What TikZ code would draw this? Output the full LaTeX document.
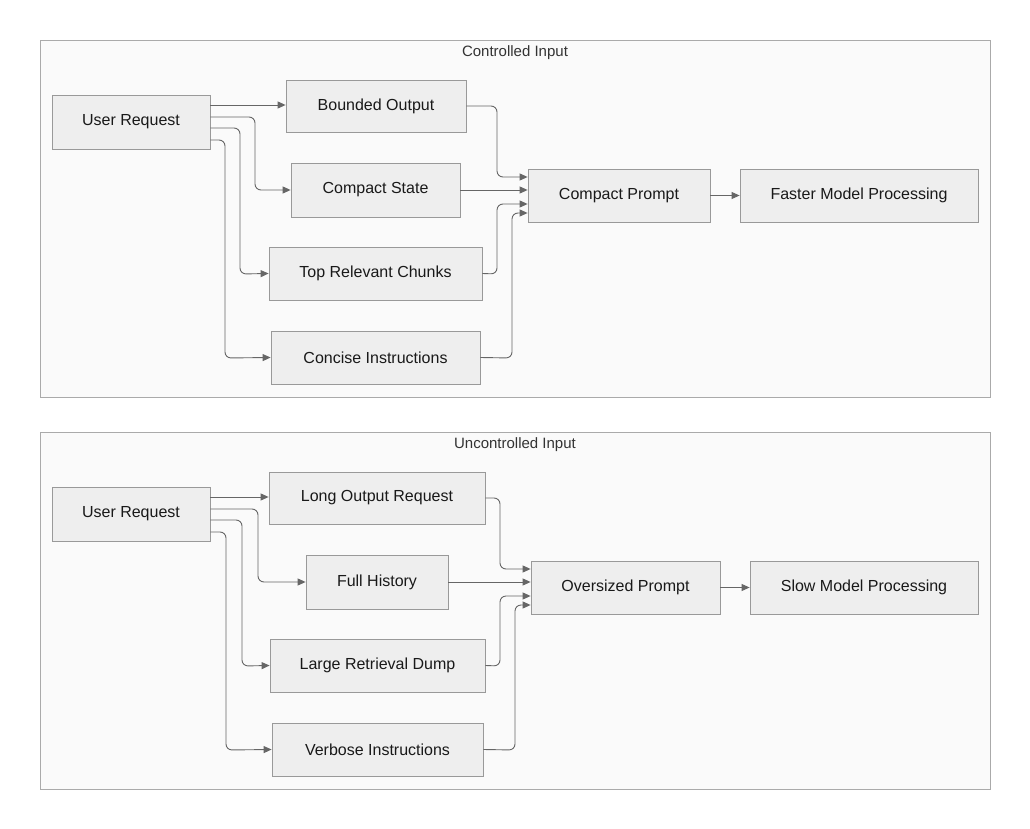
\documentclass[tikz,border=0pt]{standalone}
\usepackage{fontspec}
\setmainfont{Liberation Sans}
\usetikzlibrary{calc,arrows.meta}
\definecolor{nodefill}{HTML}{EEEEEE}
\definecolor{nodeline}{HTML}{999999}
\definecolor{clfill}{HTML}{FAFAFA}
\definecolor{clline}{HTML}{AAAAAA}
\definecolor{edge}{HTML}{666666}
\tikzset{
 box/.style={draw=nodeline,fill=nodefill,line width=0.8pt,inner sep=0pt,font=\fontsize{16}{19}\selectfont,text=black!90},
 cl/.style={draw=clline,fill=clfill,line width=0.8pt},
 ttl/.style={font=\fontsize{15}{18}\selectfont,text=black!80},
 ed/.style={draw=edge,line width=0.9pt,rounded corners=6pt,-{Triangle[length=8pt,width=7pt]}}
}
\newcommand{\mkbox}[6]{\node[box,minimum width={#4-#2},minimum height={#5-#3}] (#1) at ({(#2+#4)/2},{(#3+#5)/2}) {#6};}
\begin{document}
\begin{tikzpicture}[x=1pt,y=-1pt]
\useasboundingbox (0,0) rectangle (1030,829);
% ---------- Controlled
\path[cl] (40,40) rectangle (990,397);
\node[ttl] (t1) at (515,53) {Controlled Input};
\mkbox{u1}{52}{95}{210}{149}{User Request}
\mkbox{a1}{286}{80}{466}{132}{Bounded Output}
\mkbox{b1}{291}{163}{460}{217}{Compact State}
\mkbox{c1}{269}{247}{482}{300}{Top Relevant Chunks}
\mkbox{d1}{271}{331}{480}{384}{Concise Instructions}
\mkbox{p1}{528}{169}{710}{222}{Compact Prompt}
\mkbox{f1}{740}{169}{978}{222}{Faster Model Processing}
\draw[ed] (u1.east |- 0,105) -- (a1.west |- 0,105);
\draw[ed] (u1.east |- 0,117) -- (255,117) -- (255,190) -- (b1.west);
\draw[ed] (u1.east |- 0,128) -- (240,128) -- (240,274) -- (c1.west);
\draw[ed] (u1.east |- 0,140) -- (225,140) -- (225,358) -- (d1.west);
\draw[ed] (a1.east) -- (497,106) -- (497,177) -- (p1.west |- 0,177);
\draw[ed] (b1.east) -- (p1.west |- 0,190);
\draw[ed] (c1.east) -- (497,274) -- (497,204) -- (p1.west |- 0,204);
\draw[ed] (d1.east) -- (512,358) -- (512,213) -- (p1.west |- 0,213);
\draw[ed] (p1) -- (f1);
% ---------- Uncontrolled
\path[cl] (40,432) rectangle (990,789);
\node[ttl] (t2) at (515,445) {Uncontrolled Input};
\mkbox{u2}{52}{487}{210}{541}{User Request}
\mkbox{a2}{269}{472}{485}{524}{Long Output Request}
\mkbox{b2}{306}{555}{448}{609}{Full History}
\mkbox{c2}{270}{639}{485}{692}{Large Retrieval Dump}
\mkbox{d2}{272}{723}{483}{776}{Verbose Instructions}
\mkbox{p2}{531}{561}{720}{614}{Oversized Prompt}
\mkbox{f2}{750}{561}{978}{614}{Slow Model Processing}
\draw[ed] (u2.east |- 0,497) -- (a2.west |- 0,497);
\draw[ed] (u2.east |- 0,509) -- (258,509) -- (258,582) -- (b2.west);
\draw[ed] (u2.east |- 0,520) -- (242,520) -- (242,666) -- (c2.west);
\draw[ed] (u2.east |- 0,532) -- (226,532) -- (226,750) -- (d2.west);
\draw[ed] (a2.east) -- (500,498) -- (500,569) -- (p2.west |- 0,569);
\draw[ed] (b2.east) -- (p2.west |- 0,582);
\draw[ed] (c2.east) -- (500,666) -- (500,596) -- (p2.west |- 0,596);
\draw[ed] (d2.east) -- (515,750) -- (515,605) -- (p2.west |- 0,605);
\draw[ed] (p2) -- (f2);
\end{tikzpicture}
\end{document}
